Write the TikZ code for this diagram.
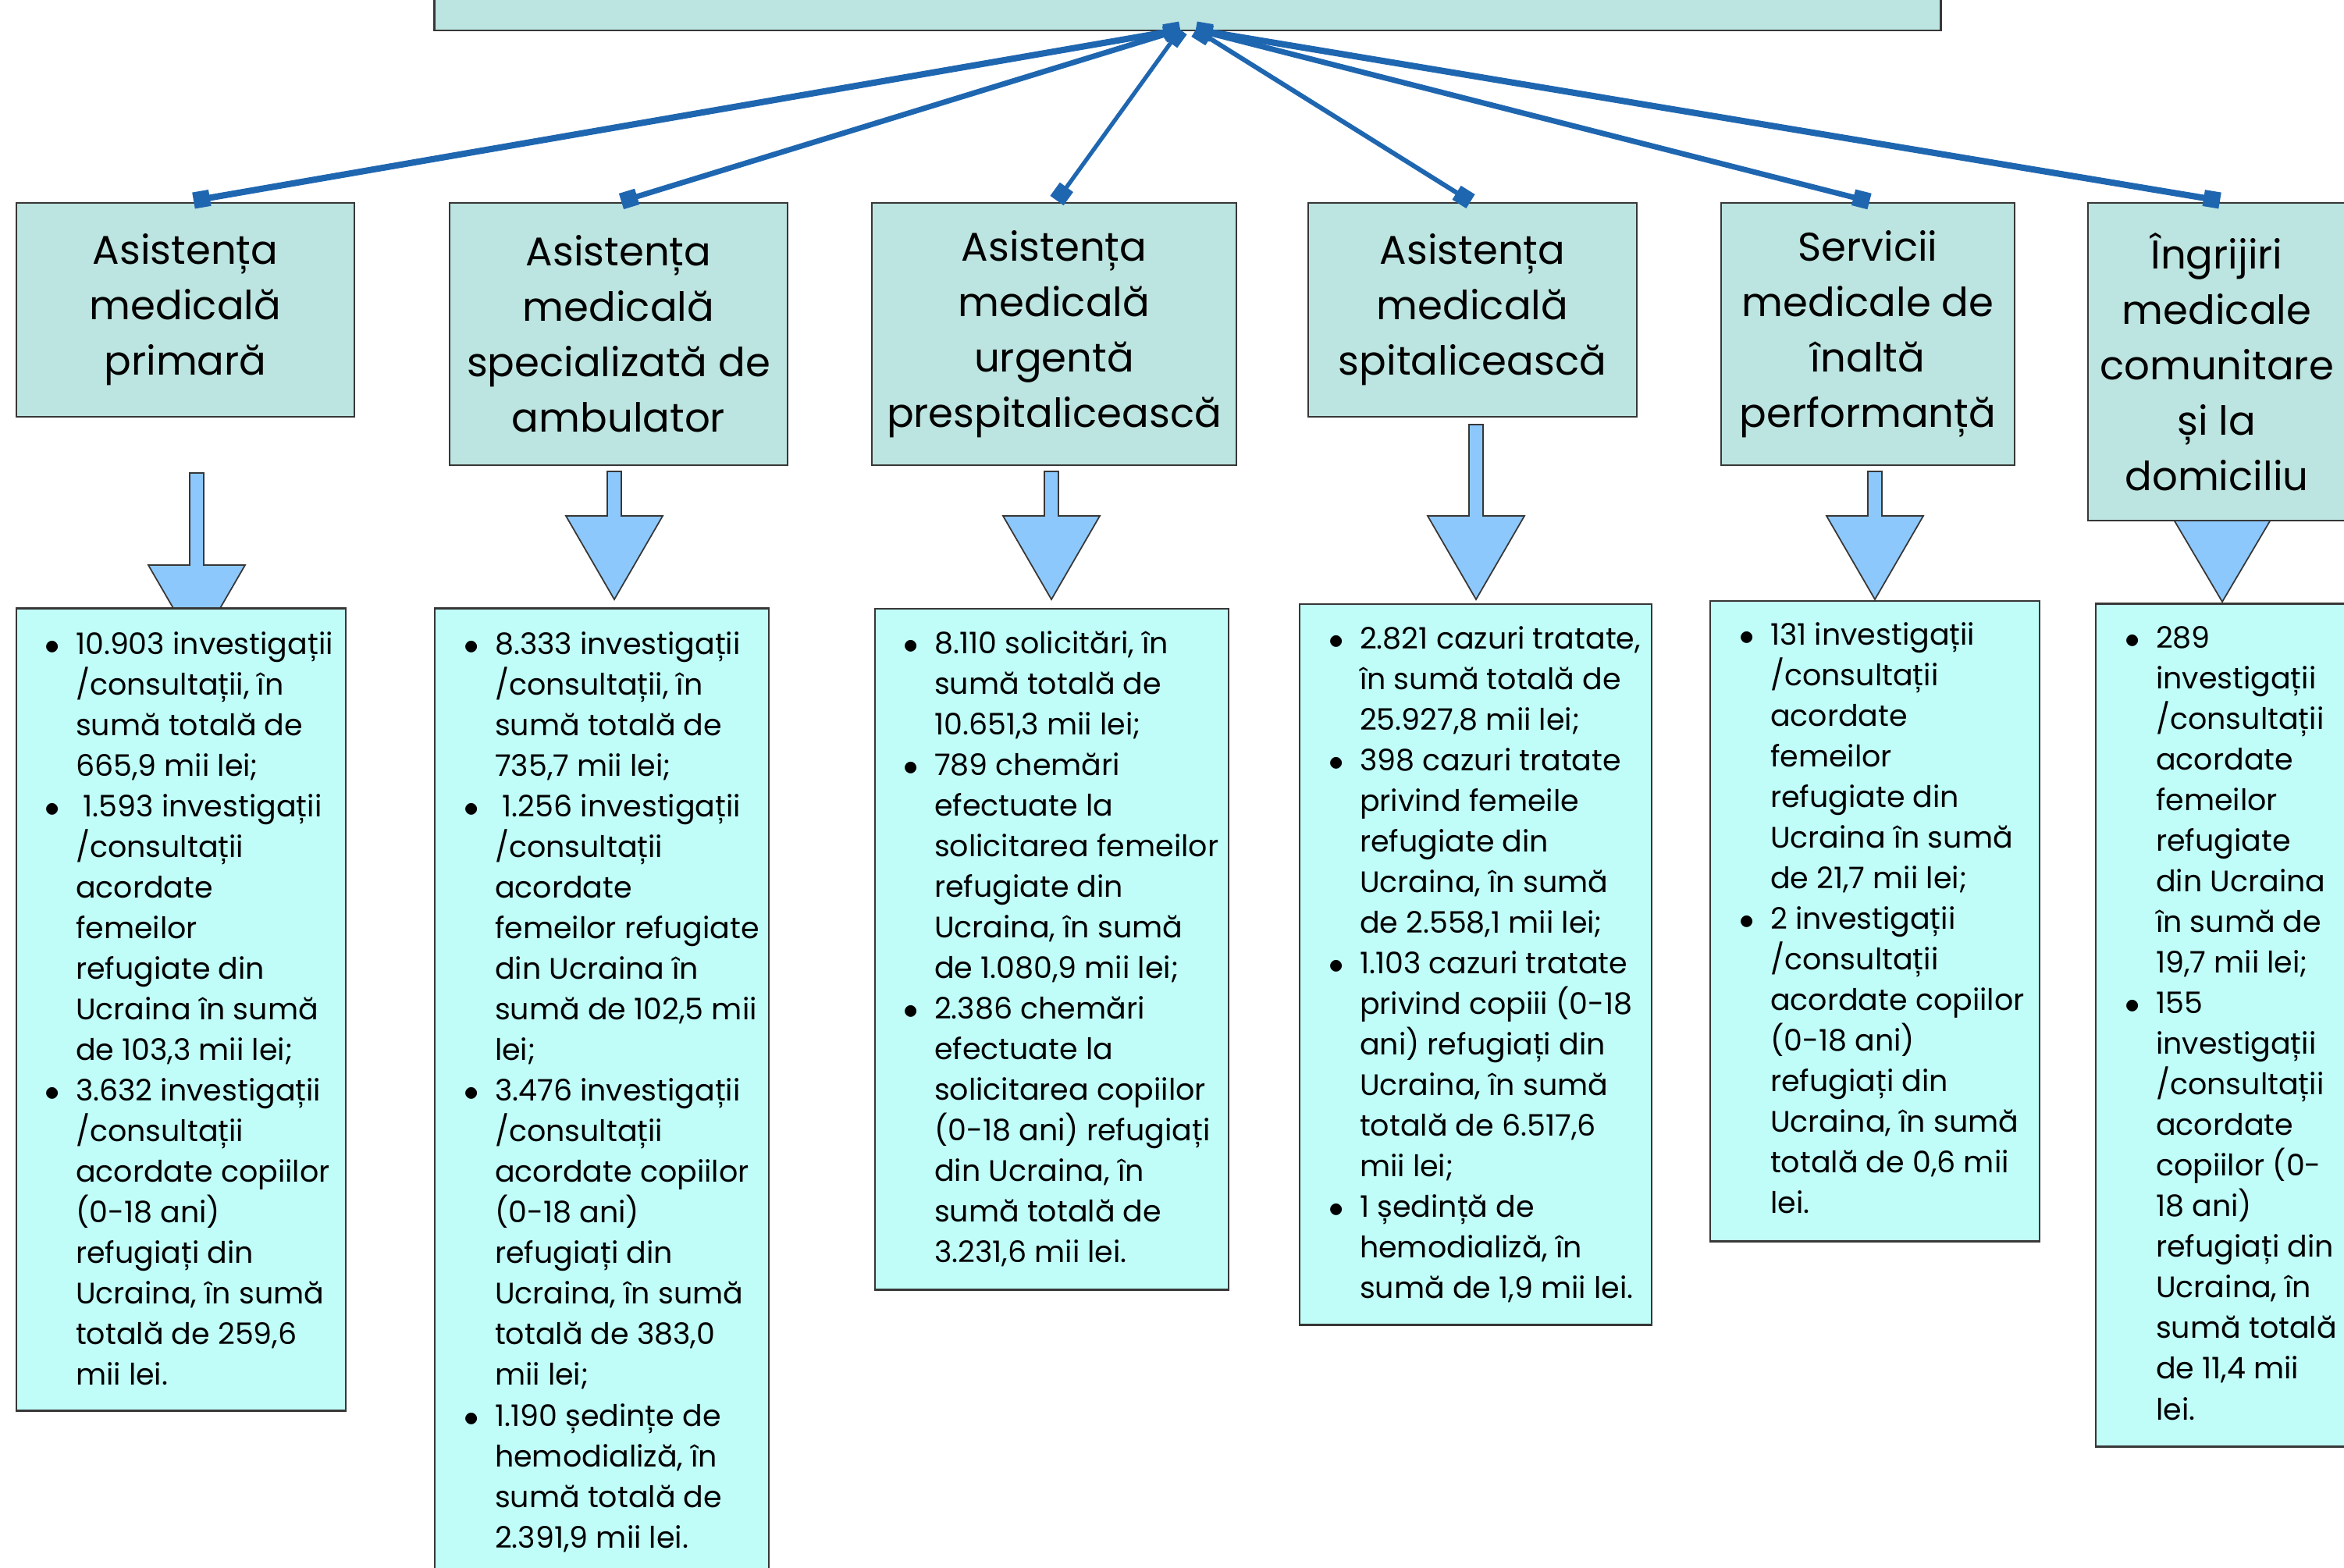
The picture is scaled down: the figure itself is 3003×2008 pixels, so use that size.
\documentclass[tikz,border=0pt]{standalone}
\usepackage{fontspec}
\setmainfont{Poppins}
\usetikzlibrary{arrows.meta}
\definecolor{conncol}{RGB}{31,102,176}
\definecolor{titlefill}{RGB}{188,228,224}
\definecolor{infofill}{RGB}{192,253,248}
\definecolor{arrfill}{RGB}{140,200,252}
\definecolor{edgecol}{RGB}{55,55,55}
\newcommand{\B}{\makebox[11.2pt][l]{$\bullet$}&}
\newenvironment{blist}{\begin{tabular}{@{}l@{}l@{}}}{\end{tabular}}
\newcommand{\blockarr}[4]{\draw[blockarrow] ({#1-9},#2) -- ({#1+9},#2) -- ({#1+9},#3) -- ({#1+62},#3) -- (#1,#4) -- ({#1-62},#3) -- ({#1-9},#3) -- cycle;}
\tikzset{
  titlebox/.style={draw=edgecol, fill=titlefill, line width=0.7pt, align=center, inner sep=0pt,
    font=\fontsize{14.6pt}{20.2pt}\selectfont},
  infobox/.style={draw=edgecol, fill=infofill, line width=0.7pt, inner sep=0pt},
  infotext/.style={anchor=north west, inner sep=0pt,
    font=\fontsize{10.8pt}{14.8pt}\selectfont},
  blockarrow/.style={fill=arrfill, draw=edgecol, line width=0.5pt, line join=miter},
  link/.style={draw=conncol, {Square[length=6pt,width=6pt]}-{Square[length=6pt,width=6pt]}},
}
\begin{document}
\begin{tikzpicture}[x=0.01cm, y=-0.01cm]
\useasboundingbox (0,0) rectangle (3003,2008);
\fill[white] (0,0) rectangle (3003,2008);
% block arrows (drawn first, boxes cover parts)
\blockarr{252}{606}{724}{831}
\blockarr{787}{604}{661}{768}
\blockarr{1347}{604}{661}{768}
\blockarr{1891}{544}{661}{768}
\blockarr{2402}{604}{661}{768}
\blockarr{2847}{600}{666}{771}
% top box
\node[titlebox, minimum width=19.29cm, minimum height=1cm, anchor=south] (top) at (1521.5,40) {};
% category boxes
\node[titlebox, minimum width=4.33cm, minimum height=2.74cm] (b1) at (237.5,397) {Asistența\\medicală\\primară};
\node[titlebox, minimum width=4.33cm, minimum height=3.36cm] (b2) at (792.5,428) {Asistența\\medicală\\specializată de\\ambulator};
\node[titlebox, minimum width=4.67cm, minimum height=3.36cm] (b3) at (1350.5,428) {Asistența\\medicală\\urgentă\\prespitalicească};
\node[titlebox, minimum width=4.21cm, minimum height=2.74cm] (b4) at (1886.5,397) {Asistența\\medicală\\spitalicească};
\node[titlebox, minimum width=3.76cm, minimum height=3.36cm] (b5) at (2393,428) {Servicii\\medicale de\\înaltă\\performanță};
\node[titlebox, minimum width=3.30cm, minimum height=4.07cm] (b6) at (2840,463.5) {Îngrijiri\\medicale\\comunitare\\și la\\domiciliu};
% info boxes
\node[infobox, minimum width=4.22cm, minimum height=10.27cm] (i1) at (232,1293.5) {};
\node[infobox, minimum width=4.28cm, minimum height=12.60cm] (i2) at (771,1410) {};
\node[infobox, minimum width=4.53cm, minimum height=8.72cm] (i3) at (1347.5,1216) {};
\node[infobox, minimum width=4.51cm, minimum height=9.23cm] (i4) at (1890.5,1235.5) {};
\node[infobox, minimum width=4.22cm, minimum height=8.20cm] (i5) at (2402,1180) {};
\node[infobox, minimum width=3.25cm, minimum height=10.79cm] (i6) at (2847.5,1313.5) {};
% texts
\node[infotext] (t1) at (57,801) {\begin{blist}
\B 10.903 investigații\\ & /consultații, în\\ & sumă totală de\\ & 665,9 mii lei;\\
\B \hspace{0.25em}1.593 investigații\\ & /consultații\\ & acordate\\ & femeilor\\ & refugiate din\\ & Ucraina în sumă\\ & de 103,3 mii lei;\\
\B 3.632 investigații\\ & /consultații\\ & acordate copiilor\\ & (0-18 ani)\\ & refugiați din\\ & Ucraina, în sumă\\ & totală de 259,6\\ & mii lei.
\end{blist}};
\node[infotext] (t2) at (594,801) {\begin{blist}
\B 8.333 investigații\\ & /consultații, în\\ & sumă totală de\\ & 735,7 mii lei;\\
\B \hspace{0.25em}1.256 investigații\\ & /consultații\\ & acordate\\ & femeilor refugiate\\ & din Ucraina în\\ & sumă de 102,5 mii\\ & lei;\\
\B 3.476 investigații\\ & /consultații\\ & acordate copiilor\\ & (0-18 ani)\\ & refugiați din\\ & Ucraina, în sumă\\ & totală de 383,0\\ & mii lei;\\
\B 1.190 ședințe de\\ & hemodializă, în\\ & sumă totală de\\ & 2.391,9 mii lei.
\end{blist}};
\node[infotext] (t3) at (1157,800) {\begin{blist}
\B 8.110 solicitări, în\\ & sumă totală de\\ & 10.651,3 mii lei;\\
\B 789 chemări\\ & efectuate la\\ & solicitarea femeilor\\ & refugiate din\\ & Ucraina, în sumă\\ & de 1.080,9 mii lei;\\
\B 2.386 chemări\\ & efectuate la\\ & solicitarea copiilor\\ & (0-18 ani) refugiați\\ & din Ucraina, în\\ & sumă totală de\\ & 3.231,6 mii lei.
\end{blist}};
\node[infotext] (t4) at (1702,794) {\begin{blist}
\B 2.821 cazuri tratate,\\ & în sumă totală de\\ & 25.927,8 mii lei;\\
\B 398 cazuri tratate\\ & privind femeile\\ & refugiate din\\ & Ucraina, în sumă\\ & de 2.558,1 mii lei;\\
\B 1.103 cazuri tratate\\ & privind copiii (0-18\\ & ani) refugiați din\\ & Ucraina, în sumă\\ & totală de 6.517,6\\ & mii lei;\\
\B 1 ședință de\\ & hemodializă, în\\ & sumă de 1,9 mii lei.
\end{blist}};
\node[infotext] (t5) at (2228,789) {\begin{blist}
\B 131 investigații\\ & /consultații\\ & acordate\\ & femeilor\\ & refugiate din\\ & Ucraina în sumă\\ & de 21,7 mii lei;\\
\B 2 investigații\\ & /consultații\\ & acordate copiilor\\ & (0-18 ani)\\ & refugiați din\\ & Ucraina, în sumă\\ & totală de 0,6 mii\\ & lei.
\end{blist}};
\node[infotext] (t6) at (2722,793) {\begin{blist}
\B 289\\ & investigații\\ & /consultații\\ & acordate\\ & femeilor\\ & refugiate\\ & din Ucraina\\ & în sumă de\\ & 19,7 mii lei;\\
\B 155\\ & investigații\\ & /consultații\\ & acordate\\ & copiilor (0-\\ & 18 ani)\\ & refugiați din\\ & Ucraina, în\\ & sumă totală\\ & de 11,4 mii\\ & lei.
\end{blist}};
% connectors
\coordinate (s1) at (1512,38);
\coordinate (s2) at (1532,38);
\coordinate (e1) at (248,257);
\coordinate (e2) at (796,258);
\coordinate (e3) at (1354,257);
\coordinate (e4) at (1884,258);
\coordinate (e5) at (2395,258);
\coordinate (e6) at (2844,257);
\draw[link, line width=2.3pt] (s1) -- (e1);
\draw[link, line width=2.0pt] (s1) -- (e2);
\draw[link, line width=1.5pt] (s1) -- (e3);
\draw[link, line width=1.7pt] (s2) -- (e4);
\draw[link, line width=2.0pt] (s2) -- (e5);
\draw[link, line width=2.3pt] (s2) -- (e6);
\end{tikzpicture}
\end{document}
